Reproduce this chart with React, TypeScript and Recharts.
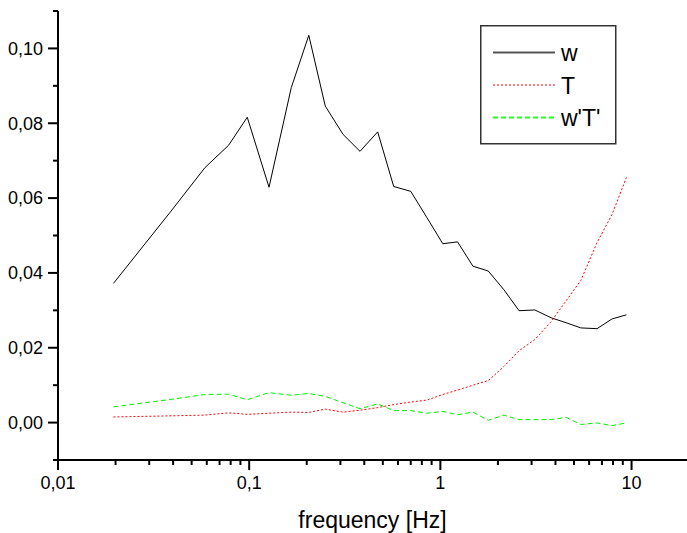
import { LineChart, Line, XAxis, YAxis, Legend, Label } from 'recharts';

// frequency bins (Hz)
const freq = [
  0.0195, 0.039, 0.0586, 0.078, 0.0977, 0.127, 0.166, 0.205, 0.25, 0.31,
  0.38, 0.47, 0.57, 0.7, 0.85, 1.03, 1.23, 1.48, 1.78, 2.15,
  2.58, 3.12, 3.8, 4.54, 5.43, 6.6, 7.9, 9.4,
];
const wVals = [
  0.0372, 0.0565, 0.0681, 0.0741, 0.0816, 0.0629, 0.0895, 0.1035, 0.0846, 0.077,
  0.0725, 0.0777, 0.0631, 0.0618, 0.0548, 0.0478, 0.0483, 0.0418, 0.0405, 0.0355,
  0.0299, 0.0301, 0.028, 0.0267, 0.0253, 0.0251, 0.0277, 0.0288,
];
const tVals = [
  0.0015, 0.0018, 0.002, 0.0026, 0.0022, 0.0025, 0.0028, 0.0027, 0.0036, 0.0028,
  0.0033, 0.004, 0.0048, 0.0055, 0.006, 0.0075, 0.0087, 0.01, 0.0112, 0.015,
  0.0192, 0.0222, 0.027, 0.0325, 0.038, 0.0481, 0.0556, 0.0655,
];
const wtVals = [
  0.0042, 0.0062, 0.0075, 0.0076, 0.0061, 0.008, 0.0073, 0.0078, 0.007, 0.0053,
  0.0037, 0.005, 0.0032, 0.0032, 0.0025, 0.003, 0.0021, 0.0028, 0.0006, 0.002,
  0.0008, 0.0008, 0.0008, 0.0014, -0.0005, -0.0001, -0.0008, -0.0001,
];

const xTicks = [
  0.01, 0.02, 0.03, 0.04, 0.05, 0.06, 0.07, 0.08, 0.09,
  0.1, 0.2, 0.3, 0.4, 0.5, 0.6, 0.7, 0.8, 0.9,
  1, 2, 3, 4, 5, 6, 7, 8, 9, 10,
];
const yTicks = [-0.01, 0, 0.01, 0.02, 0.03, 0.04, 0.05, 0.06, 0.07, 0.08, 0.09, 0.1, 0.11];

const series = [
  { key: 'w', name: 'w', color: '#000000', legendColor: '#555555', dash: undefined, legendWidth: 2 },
  { key: 'T', name: 'T', color: '#ff0000', legendColor: '#ff0000', dash: '2 2', legendWidth: 1 },
  { key: 'wT', name: "w'T'", color: '#00f000', legendColor: '#22ff22', dash: '5 3', legendWidth: 2 },
];

const data = freq.map((f, i) => ({ f, w: wVals[i], T: tVals[i], wT: wtVals[i] }));

const FONT = '"Liberation Sans", Arial, sans-serif';

const YTick = (props: any) => {
  const { x, y, payload } = props;
  const n = Math.round(payload.value * 100);
  const major = n % 2 === 0;
  return (
    <g>
      <line x1={x - (major ? 10 : 5)} x2={x} y1={y} y2={y} stroke="#000" strokeWidth={2} />
      {major && n >= 0 && (
        <text x={x - 15} y={y} dy={6.4} textAnchor="end" fontSize={18} fontFamily={FONT} fill="#000">
          {payload.value.toFixed(2).replace('.', ',')}
        </text>
      )}
    </g>
  );
};

const XTick = (props: any) => {
  const { x, y, payload } = props;
  const lg = Math.log10(payload.value);
  const major = Math.abs(lg - Math.round(lg)) < 1e-6;
  return (
    <g>
      <line x1={x} x2={x} y1={y} y2={y + (major ? 10 : 5)} stroke="#000" strokeWidth={2} />
      {major && (
        <text x={x} y={y + 29} textAnchor="middle" fontSize={18} fontFamily={FONT} fill="#000">
          {String(payload.value).replace('.', ',')}
        </text>
      )}
    </g>
  );
};

const LegendBox = () => (
  <svg width={137} height={120} style={{ display: 'block' }}>
    <rect x={0.75} y={0.75} width={135} height={118} fill="#fff" stroke="#333" strokeWidth={1.5} />
    {series.map((s, i) => {
      const cy = 27.5 + i * 32.5;
      return (
        <g key={s.key}>
          <line x1={13} x2={75} y1={cy} y2={cy} stroke={s.legendColor} strokeWidth={s.legendWidth} strokeDasharray={s.dash} />
          <text x={81} y={cy + 8.5} fontSize={23} fontFamily={FONT} fill="#000">
            {s.name}
          </text>
        </g>
      );
    })}
  </svg>
);

export default function App() {
  return (
    <div style={{ position: 'absolute', left: 0, top: 0, width: 687, height: 533, background: '#fff' }}>
      <LineChart width={687} height={533} data={data} margin={{ top: 11, right: 0, bottom: 0, left: 0 }}>
        <XAxis
          dataKey="f"
          type="number"
          scale="log"
          domain={[0.01, 19.5]}
          allowDataOverflow
          ticks={xTicks}
          interval={0}
          tick={<XTick />}
          tickLine={false}
          tickSize={0}
          tickMargin={0}
          height={73}
          axisLine={{ stroke: '#000', strokeWidth: 2 }}
        >
          <Label
            value="frequency [Hz]"
            position="insideBottom"
            offset={5}
            style={{ fontSize: 23, fontFamily: FONT, fill: '#000' }}
          />
        </XAxis>
        <YAxis
          type="number"
          domain={[-0.01, 0.11]}
          allowDataOverflow
          ticks={yTicks}
          interval={0}
          tick={<YTick />}
          tickLine={false}
          tickSize={0}
          tickMargin={0}
          width={58}
          axisLine={{ stroke: '#000', strokeWidth: 2 }}
        />
        <Legend
          layout="horizontal"
          align="center"
          verticalAlign="middle"
          content={() => <LegendBox />}
          wrapperStyle={{ position: 'absolute', left: 480, top: 25, width: 137, height: 120 }}
        />
        {series.map((s) => (
          <Line
            key={s.key}
            dataKey={s.key}
            name={s.name}
            type="linear"
            stroke={s.color}
            strokeWidth={1}
            strokeDasharray={s.dash}
            dot={false}
            activeDot={false}
            isAnimationActive={false}
          />
        ))}
      </LineChart>
    </div>
  );
}
